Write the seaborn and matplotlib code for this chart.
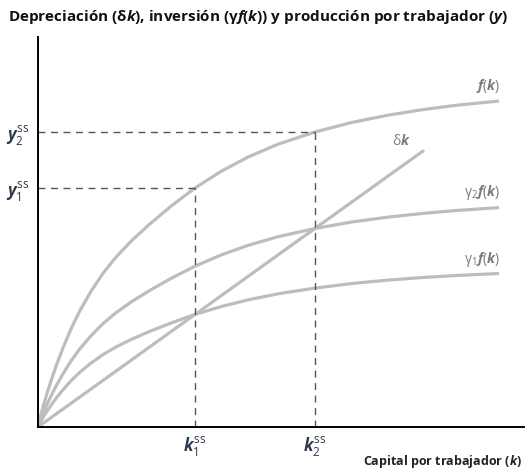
import matplotlib
matplotlib.use("Agg")
import matplotlib.pyplot as plt
import seaborn as sns
import pandas as pd

# ---- data ----
k_grid = [0, 2, 5, 9, 14, 19, 26, 33, 42, 53, 65, 78, 94, 111, 133, 157,
          183, 210, 240, 277, 313, 351, 385, 418, 461]
f_vals = [0, 8.6, 20, 33.6, 49.1, 63.4, 81.6, 98, 116.5, 135.7, 153.7, 169.9,
          186.7, 202.3, 220.8, 239, 255.6, 269.9, 282.8, 295, 304.4, 312,
          317.4, 321.7, 326]
g2f_vals = [0, 5.8, 13.5, 22.6, 33.0, 42.7, 54.9, 66.0, 78.4, 91.3, 103.4,
            114.3, 125.6, 136.1, 148.6, 160.8, 172.0, 181.6, 190.3, 198.5,
            204.9, 210.0, 213.6, 216.5, 219.4]
g1f_vals = [0, 4.1, 9.4, 15.8, 23.1, 29.9, 38.4, 46.2, 54.9, 63.9, 72.4, 80.0,
            87.9, 95.3, 104.0, 112.6, 120.4, 127.1, 133.2, 138.9, 143.4, 147.0,
            149.5, 151.5, 153.5]
dk_k = [0, 385]
dk_vals = [0, 276]
k_ss = [157, 277]
y_ss = [239, 295]
k_labels = [r"$k_{\mathrm{1}}^{\mathrm{ss}}$", r"$k_{\mathrm{2}}^{\mathrm{ss}}$"]
y_labels = [r"$y_{\mathrm{1}}^{\mathrm{ss}}$", r"$y_{\mathrm{2}}^{\mathrm{ss}}$"]
title = r"Depreciación (δ$k$), inversión (γ$f$($k$)) y producción por trabajador ($y$)"
xlabel = r"Capital por trabajador ($k$)"

sns.set_style("white")
plt.rcParams["font.family"] = ["Open Sans", "DejaVu Sans"]
plt.rcParams["mathtext.fontset"] = "custom"
plt.rcParams["mathtext.rm"] = "Open Sans"
plt.rcParams["mathtext.it"] = "Open Sans:italic:bold"
plt.rcParams["mathtext.bf"] = "Open Sans:bold"

W, H = 526, 470
fig = plt.figure(figsize=(W / 100, H / 100), dpi=100)
ax = fig.add_axes([38 / W, 43 / H, (524 - 38) / W, 390 / H])

curve_col = "#bdbdbd"
lw = 2.3
df = pd.DataFrame({"k": k_grid, "f": f_vals, "g2": g2f_vals, "g1": g1f_vals})
for col in ["f", "g2", "g1"]:
    sns.lineplot(data=df, x="k", y=col, ax=ax, color=curve_col, lw=lw, sort=False,
                 solid_joinstyle="round", solid_capstyle="butt")
sns.lineplot(x=dk_k, y=dk_vals, ax=ax, color=curve_col, lw=lw)

dash_col = "#555555"
for kk, yy in zip(k_ss, y_ss):
    ax.plot([kk, kk], [0, yy], color=dash_col, lw=1.0, dashes=(5, 4))
    ax.plot([0, kk], [yy, yy], color=dash_col, lw=1.0, dashes=(5, 4))

ax.set_xlim(0, 486)
ax.set_ylim(0, 390)
for s in ["top", "right"]:
    ax.spines[s].set_visible(False)
for s in ["left", "bottom"]:
    ax.spines[s].set_color("black")
    ax.spines[s].set_linewidth(1.4)

lab_col = "#2e3a4c"
ax.set_xticks(k_ss, k_labels)
ax.set_yticks(y_ss, y_labels)
ax.tick_params(length=0, labelsize=12, labelcolor=lab_col, pad=6)
ax.set_xlabel("")
ax.set_ylabel("")

txt_col = "#7a7a7a"
ax.text(462, 332, r"$f(k)$", color=txt_col, fontsize=10, ha="right", va="bottom")
ax.text(373, 278, r"δ$k$", color=txt_col, fontsize=10, ha="right", va="bottom")
ax.text(462, 225, r"γ$_2f(k)$", color=txt_col, fontsize=10, ha="right", va="bottom")
ax.text(462, 158, r"γ$_1f(k)$", color=txt_col, fontsize=10, ha="right", va="bottom")

fig.text(8 / W, 1 - 17 / H, title, fontsize=11, fontweight="bold", color="#111111",
         ha="left", va="center")
fig.text(522 / W, 1 - 462 / H, xlabel, fontsize=9, fontweight="bold", color="#222222",
         ha="right", va="center")

fig.savefig("out.png", dpi=100)
